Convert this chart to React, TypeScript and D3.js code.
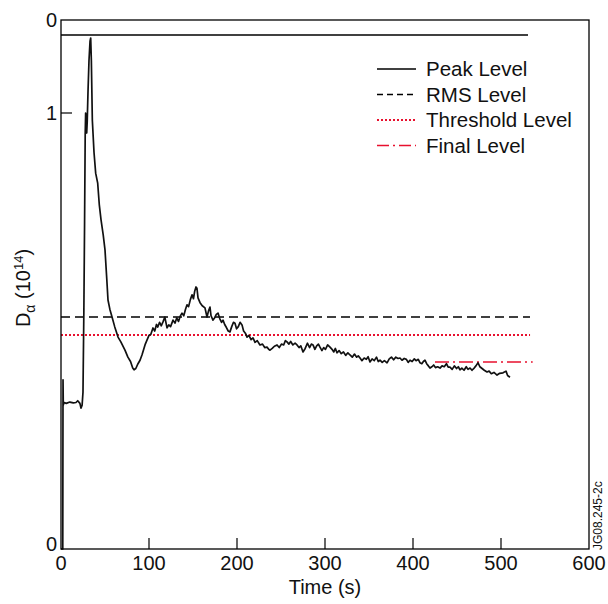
import React from "react";
import * as d3 from "d3";

const curveT = [0,2,2.3,2.6,3.5,6,10,14,17,19,21.5,22.7,24,25,26,26.8,27.5,28,28.6,29.2,29.8,30.7,31.8,33,33.75,34.5,35.6,37.5,39.4,41.7,43.5,45.5,48,50,52,53.4,55.5,58,61,64.8,68,72.7,76,79,81.5,83,85,87.5,89.8,92,94,95.8,97.7,100,102,104.5,106.5,108.5,110,112,114,115.9,118,120.5,122.5,124.5,127.3,129.5,131.5,133.5,135.5,137.5,139.5,141.5,143.2,145,147,148.9,150.5,152,153.4,154.5,155.7,158,160.5,163.6,165.9,167.5,169.3,170.5,172.7,174.5,176.5,178.4,180.5,182.5,184.1,186,188,190,192,194,196,197.7,199.5,201.5,203.5,205.7,207.5,209.5,211.4,213.5,216,218.2,220.5,223,226.1,229,231.5,234.1,236,237.5,240,242.5,245.5,248,250.5,253,255,256.8,259,261,263.5,266,268.2,270.5,272.5,275,277.5,280,282.5,284.5,286.4,288.5,290.5,292.5,294.3,296.5,298.5,300.5,303,305.7,308,310,311.8,313.6,316,318.5,321,323.5,326,328.4,331,333.5,336,337.8,339.8,342,344.5,347,349,351.1,353.5,356,358.5,360.5,362.5,365,367.5,370.5,373,375.5,378,380.5,383,385.2,387.5,390,392.5,394.5,396.6,399,401.5,403.5,406,408,410,411.8,413.6,415.5,417.5,419.3,421.5,423.5,425.5,428,430.7,433,435.5,438,440,442,444.5,447,449.5,451.5,453.4,455.5,458,460.5,462.5,464.8,467,469.5,471.5,473.9,476,478.5,481,484.1,486.5,489,492,495.5,498.5,502.3,505.7,507.5,510.2];
const curveV = [0,0,0.388,0.33,0.336,0.334,0.337,0.335,0.336,0.34,0.334,0.323,0.33,0.36,0.55,0.75,0.95,1.0,0.99,0.954,0.98,1.05,1.12,1.165,1.172,1.12,0.984,0.91,0.862,0.839,0.79,0.755,0.72,0.686,0.62,0.571,0.55,0.532,0.51,0.486,0.475,0.456,0.44,0.43,0.415,0.411,0.414,0.425,0.433,0.445,0.458,0.47,0.479,0.49,0.492,0.507,0.5,0.515,0.509,0.52,0.512,0.521,0.532,0.507,0.514,0.51,0.525,0.518,0.53,0.522,0.534,0.541,0.535,0.55,0.56,0.556,0.572,0.583,0.574,0.592,0.601,0.598,0.576,0.565,0.558,0.553,0.532,0.545,0.555,0.535,0.525,0.53,0.538,0.541,0.528,0.52,0.525,0.515,0.508,0.5,0.498,0.51,0.52,0.518,0.505,0.51,0.52,0.514,0.5,0.495,0.486,0.49,0.48,0.484,0.474,0.478,0.468,0.47,0.462,0.463,0.458,0.456,0.46,0.465,0.468,0.462,0.47,0.468,0.478,0.475,0.47,0.476,0.468,0.472,0.468,0.462,0.466,0.452,0.46,0.472,0.462,0.47,0.468,0.458,0.466,0.47,0.463,0.455,0.462,0.458,0.468,0.463,0.458,0.452,0.46,0.45,0.455,0.448,0.452,0.444,0.45,0.445,0.44,0.447,0.44,0.443,0.438,0.432,0.438,0.435,0.441,0.429,0.436,0.432,0.44,0.43,0.433,0.428,0.432,0.427,0.436,0.44,0.434,0.44,0.437,0.438,0.433,0.437,0.435,0.428,0.433,0.43,0.436,0.432,0.435,0.427,0.425,0.43,0.433,0.425,0.42,0.415,0.418,0.422,0.416,0.418,0.415,0.42,0.418,0.425,0.417,0.417,0.412,0.42,0.414,0.418,0.411,0.415,0.41,0.418,0.412,0.415,0.41,0.415,0.42,0.427,0.418,0.414,0.41,0.406,0.408,0.402,0.405,0.399,0.403,0.404,0.408,0.398,0.394];

const levelNames = ["Peak Level", "RMS Level", "Threshold Level", "Final Level"];
const levelValues = [1.179, 0.532, 0.491, 0.429];
const levelStart = [0, 0, 0, 425];
const levelEnd = [530.7, 533, 533, 536];

const xTicks = [0, 100, 200, 300, 400, 500, 600];
const yTickValues = [0, 1, 1.2133];
const yTickLabels = ["0", "1", "0"];

const W = 608, H = 604;
const L = 61, R = 589, T = 20, B = 549;
const FONT = "'Liberation Sans', Arial, Helvetica, sans-serif";
const RED = "#e8102e";

const styles = [
  { stroke: "#000", dash: "", width: 1.5 },
  { stroke: "#000", dash: "9,5", width: 1.5 },
  { stroke: RED, dash: "2,2", width: 2 },
  { stroke: RED, dash: "14,4,2,4", width: 1.5 },
];

export default function App() {
  const x = d3.scaleLinear().domain([0, 600]).range([L, R]);
  const y = d3.scaleLinear().domain([0, 1.2133]).range([B, T]);
  const pts: [number, number][] = curveT.map((t, i) => [t, curveV[i]]);
  const line = d3.line<[number, number]>().x(d => x(d[0])).y(d => y(d[1]));

  return (
    <svg width={W} height={H} style={{ position: "absolute", left: 0, top: 0, background: "#fff" }} fontFamily={FONT}>
      <rect x={0} y={0} width={W} height={H} fill="#fff" />
      {levelValues.map((v, i) => (
        <line key={i} x1={x(levelStart[i])} x2={x(levelEnd[i])} y1={y(v)} y2={y(v)}
          stroke={styles[i].stroke} strokeWidth={styles[i].width} strokeDasharray={styles[i].dash} />
      ))}
      <path d={line(pts) || ""} fill="none" stroke="#111" strokeWidth={1.7} strokeLinejoin="round" />
      <rect x={L} y={T} width={R - L} height={B - T} fill="none" stroke="#000" strokeWidth={1.3} />
      {xTicks.map((t, i) => (
        <g key={i}>
          {t > 0 && t < 600 && <line x1={x(t)} x2={x(t)} y1={B} y2={B - 11} stroke="#000" strokeWidth={1.2} />}
          <text x={x(t)} y={570} fontSize={20} textAnchor="middle" fill="#111">{t}</text>
        </g>
      ))}
      {yTickValues.map((v, i) => (
        <g key={i}>
          {v === 1 && <line x1={L} x2={L + 11} y1={y(v)} y2={y(v)} stroke="#000" strokeWidth={1.2} />}
          <text x={57} y={y(v) + (i === 0 ? 2 : 7)} fontSize={20} textAnchor="end" fill="#111">{yTickLabels[i]}</text>
        </g>
      ))}
      <text x={325} y={594} fontSize={20} textAnchor="middle" fill="#111">Time (s)</text>
      <text transform="translate(30,288) rotate(-90)" fontSize={20} textAnchor="middle" fill="#111">
        D<tspan fontSize={14} dy={5}>α</tspan><tspan dy={-5}> (10</tspan><tspan fontSize={13} dy={-7}>14</tspan><tspan dy={7}>)</tspan>
      </text>
      <text transform="translate(602,550) rotate(-90)" fontSize={12} textAnchor="start" fill="#111">JG08.245-2c</text>
      {levelNames.map((n, i) => {
        const ly = 69 + i * 25.5;
        return (
          <g key={i}>
            <line x1={377} x2={416} y1={ly} y2={ly} stroke={styles[i].stroke} strokeWidth={styles[i].width}
              strokeDasharray={i === 1 ? "6,4" : i === 3 ? "12,4,2,4" : styles[i].dash} />
            <text x={426} y={ly + 7} fontSize={20.5} fill="#111">{n}</text>
          </g>
        );
      })}
    </svg>
  );
}
